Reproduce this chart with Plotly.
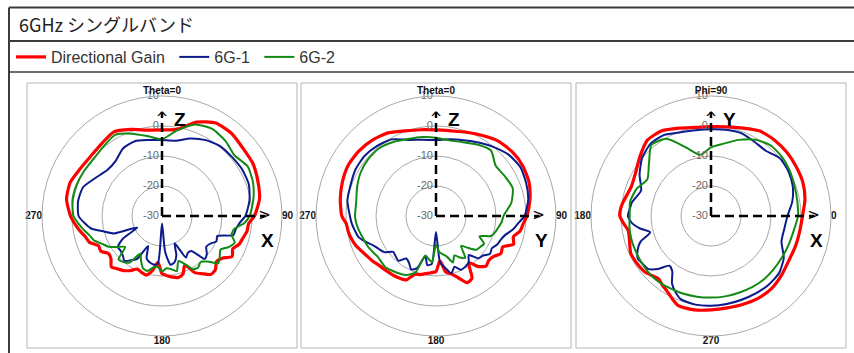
import plotly.graph_objects as go

W, H = 854, 353

title_text = "6GHz シングルバンド"
series_names = ["Directional Gain", "6G-1", "6G-2"]
series_colors = ["#ff0000", "#0b1a8c", "#138a13"]
series_widths = [3.2, 2.0, 2.0]

radial_ticks = [10, 0, -10, -20, -30]

# angles (deg) used for the two Theta=0 cuts, clockwise from the top
theta_a = [0, 10, 20, 30, 40, 50, 60, 70, 80, 90,
           95, 100, 105, 110, 115, 120, 125, 130, 135, 140, 145, 150, 155, 160, 165,
           170, 175, 180, 185, 190, 195, 200, 205, 210, 215, 220, 225, 230, 235, 240,
           245, 250, 255, 260, 265,
           270, 280, 290, 300, 310, 320, 330, 340, 350]

# angles (deg) for the Phi=90 cut, counter-clockwise from the right
theta_b = [0, 10, 20, 30, 40, 50, 60, 70, 80, 90, 100, 110, 120, 130, 140, 150, 160, 170,
           175, 180, 185, 190, 195, 200, 205, 210, 215, 220, 225, 230, 235, 240, 245, 250,
           260, 270, 280, 290, 300, 310, 320, 330, 340, 350]

# XZ plane
p1_gain = [-1.3, -0.7, 3.3, 5.8, 6.0, 5.2, 5.0, 4.0, 3.0, 0.8,
           -1.0, -1.2, -2.0, -2.6, -4.0, -3.0, -5.5, -6.3, -4.8, -4.6, -6.5, -8.2, -12.0, -9.5, -8.8,
           -9.3, -10.0, -10.8, -14.5, -11.5, -9.6, -10.0, -10.5, -9.0, -7.8, -7.0, -6.1, -7.8, -8.2, -6.5,
           -6.6, -4.3, -3.5, -2.1, -0.8,
           0.5, 2.3, 2.6, 1.5, 1.0, 1.4, 2.3, 0.7, -0.9]
p1_6g1 = [-4.7, -4.5, -2.5, -0.8, 0.3, 0.5, 0.9, 0.8, -0.4, -2.2,
          -4.0, -5.0, -5.4, -10.4, -10.0, -11.5, -12.0, -10.5, -9.8, -14.8, -15.0, -14.0, -20.0, -16.0, -14.0,
          -13.5, -18.0, -27.5, -14.0, -13.6, -14.0, -15.0, -19.0, -13.5, -12.0, -10.5, -11.5, -12.0, -12.0, -15.0,
          -20.9, -13.0, -10.0, -6.0, -4.0,
          -2.2, -1.6, -2.0, -4.5, -6.2, -6.0, -4.0, -3.5, -4.3]
p1_6g2 = [-4.4, -1.0, 2.5, 3.5, 2.8, 1.5, 3.0, 2.3, 0.9, -0.8,
          -2.5, -5.5, -6.0, -4.2, -5.5, -7.5, -6.5, -5.5, -8.5, -10.0, -9.0, -9.5, -12.5, -14.0, -11.0,
          -12.0, -12.5, -11.5, -13.0, -12.5, -11.0, -11.5, -13.5, -15.5, -11.0, -10.0, -9.5, -14.0, -12.0, -9.5,
          -8.0, -6.0, -5.0, -3.5, -2.0,
          -0.5, 0.3, 0.3, 0.0, -0.3, 0.3, 1.2, -0.8, -3.0]

# YZ plane
p2_gain = [-1.3, -1.2, -0.3, 1.0, 2.5, 3.2, 3.4, 3.0, 1.8, 0.3,
           -0.8, -1.5, -3.3, -2.5, -5.5, -5.0, -6.5, -7.0, -6.4, -8.0, -11.0, -6.0, -5.5, -8.0, -10.0,
           -11.0, -15.0, -11.5, -11.0, -10.5, -9.8, -9.3, -6.5, -6.0, -5.7, -5.5, -5.2, -4.8, -4.0, -3.4,
           -2.5, -1.5, -0.8, -0.3, 0.0,
           1.4, 2.4, 3.2, 3.8, 3.6, 3.0, 2.0, 0.2, -0.8]
p2_6g1 = [-4.7, -4.0, -3.1, -1.7, 0.0, 1.7, 2.5, 2.0, 1.2, -0.5,
          -2.5, -4.0, -6.0, -7.0, -7.5, -8.5, -8.0, -9.5, -10.0, -13.0, -11.0, -10.5, -10.2, -12.0, -10.2,
          -12.5, -14.5, -24.7, -14.0, -13.4, -16.2, -11.5, -10.4, -12.0, -12.7, -10.5, -11.0, -11.4, -9.0, -8.0,
          -6.9, -5.0, -3.2, -2.5, -1.8,
          -1.3, 0.0, 0.3, 1.0, 1.1, 0.5, -0.5, -3.0, -4.2]
p2_6g2 = [-3.9, -4.4, -3.8, -2.5, -1.5, -4.0, -3.5, -2.8, -4.5, -7.5,
          -8.0, -8.8, -9.5, -10.5, -14.0, -11.5, -12.0, -12.5, -15.0, -17.0, -13.0, -14.0, -15.5, -13.5, -16.0,
          -17.0, -18.0, -20.5, -14.6, -15.5, -16.4, -10.0, -8.4, -7.5, -7.0, -6.5, -6.0, -6.2, -6.3, -5.8,
          -5.2, -4.8, -4.4, -3.8, -3.3,
          -3.0, -3.0, -2.0, -1.0, -0.5, -0.5, -1.5, -2.7, -3.3]

# XY plane
p3_gain = [0.5, 1.8, 2.6, 2.8, 3.0, 3.0, 2.7, 1.2, 0.2, -0.2, 0.0, 1.2, 2.8, 3.0, 0.9, -1.0, -1.7, -0.5,
           0.2, 0.4, -0.8, -2.0, -1.8, -1.2, -0.5, -0.6, -0.8, -1.1, -2.0, -2.7, -1.8, -0.9, 0.5, 1.8,
           1.8, 1.3, 1.1, 1.3, 1.6, 1.5, 0.7, -0.1, -0.1, 0.0]
p3_6g1 = [-4.5, -2.5, -1.0, -0.2, 0.0, -1.6, -1.3, -0.6, -0.8, -1.1, -1.0, -0.3, 1.2, 1.4, 0.0, -2.5, -5.2, -3.3,
          -2.8, -2.3, -3.5, -6.0, -9.0, -5.0, -3.0, -1.8, -2.2, -2.6, -5.0, -8.4, -7.5, -4.0, -2.0, -0.5,
          0.0, -0.1, -0.2, -0.3, -0.2, -0.1, -0.4, -2.0, -5.0, -5.2]
p3_6g2 = [-1.0, -0.8, -0.4, 0.3, 0.8, 0.8, -0.6, -3.0, -5.5, -7.1, -9.3, -5.7, -0.3, 0.9, -3.0, -5.5, -3.6, -2.6,
          -2.8, -2.9, -2.7, -2.5, -2.4, -2.3, -2.3, -2.2, -2.1, -2.0, -1.9, -1.9, -2.1, -2.3, -2.4, -2.5,
          -2.7, -2.8, -2.8, -2.8, -2.6, -2.5, -2.6, -2.6, -2.4, -2.0]

# compass labels: (angle, text) for up / right / down / left
panels = [
    dict(theta=theta_a, data=[p1_gain, p1_6g1, p1_6g2],
         compass=[(0, "Theta=0"), (90, "90"), (180, "180"), (270, "270")],
         rotation=90, direction="clockwise", letters=("Z", "X")),
    dict(theta=theta_a, data=[p2_gain, p2_6g1, p2_6g2],
         compass=[(0, "Theta=0"), (90, "90"), (180, "180"), (270, "270")],
         rotation=90, direction="clockwise", letters=("Z", "Y")),
    dict(theta=theta_b, data=[p3_gain, p3_6g1, p3_6g2],
         compass=[(90, "Phi=90"), (0, "0"), (270, "270"), (180, "180")],
         rotation=0, direction="counterclockwise", letters=("Y", "X")),
]
compass_pos = ["top center", "middle right", "bottom center", "middle left"]

centers_x = [162, 436, 711]
center_y = 216
R = 120
panel_boxes = [(27, 297), (301, 571), (576, 846)]

fig = go.Figure()
shapes = []
annotations = []

for i, pn in enumerate(panels):
    sub = "polar" if i == 0 else "polar%d" % (i + 1)
    th = pn["theta"] + [pn["theta"][0]]
    up = pn["compass"][0][0]
    right = pn["compass"][1][0]
    for j in range(3):
        r = pn["data"][j] + [pn["data"][j][0]]
        fig.add_trace(go.Scatterpolar(
            r=r, theta=th, mode="lines", subplot=sub,
            name=series_names[j] + "\u00a0", showlegend=(i == 0), legendgroup=series_names[j],
            line=dict(color=series_colors[j], width=series_widths[j], shape="spline", smoothing=0.6),
            hoverinfo="skip"))

    # dashed axis arrows
    for ang, head, hr in [(up, "^", 2.3), (right, ">", 4.2)]:
        fig.add_trace(go.Scatterpolar(
            r=[-30, 4.5], theta=[ang, ang], mode="lines", subplot=sub, showlegend=False,
            line=dict(color="black", width=2.5, dash="9px,5px"), hoverinfo="skip"))
        fig.add_trace(go.Scatterpolar(
            r=[hr], theta=[ang], mode="text", text=[head], subplot=sub, showlegend=False,
            textposition="middle center",
            textfont=dict(family="DejaVu Sans", size=15, color="black"), hoverinfo="skip"))

    # radial tick labels
    fig.add_trace(go.Scatterpolar(
        r=radial_ticks, theta=[up] * len(radial_ticks), mode="text",
        text=["%d\u00a0" % v for v in radial_ticks], textposition="middle left", subplot=sub,
        showlegend=False, textfont=dict(family="Liberation Sans", size=11, color="#6b6b6b"),
        hoverinfo="skip"))

    # angle labels on the outer ring
    fig.add_trace(go.Scatterpolar(
        r=[radial_ticks[0]] * 4, theta=[c[0] for c in pn["compass"]], mode="text",
        text=["<b>%s</b>" % c[1] for c in pn["compass"]], textposition=compass_pos,
        subplot=sub, showlegend=False,
        textfont=dict(family="Liberation Sans", size=10, color="#111"), hoverinfo="skip"))

    cx = centers_x[i]
    fig.update_layout({sub: dict(
        domain=dict(x=[(cx - R) / W, (cx + R) / W],
                    y=[1 - (center_y + R) / H, 1 - (center_y - R) / H]),
        bgcolor="white",
        radialaxis=dict(range=[-30, 10], tickvals=radial_ticks, showticklabels=False,
                        showline=False, ticks="", gridcolor="#a8a8a8", gridwidth=1),
        angularaxis=dict(tickvals=[c[0] for c in pn["compass"]], showticklabels=False,
                         rotation=pn["rotation"], direction=pn["direction"], showgrid=False,
                         ticks="", linecolor="#a8a8a8", linewidth=1),
    )})

    # panel frame
    x0, x1 = panel_boxes[i]
    shapes.append(dict(type="rect", xref="paper", yref="paper",
                       x0=x0 / W, x1=x1 / W, y0=1 - 348 / H, y1=1 - 83 / H,
                       line=dict(color="#b4b4b4", width=1)))

    # axis letters
    for letter, lx, ly in [(pn["letters"][0], cx + 18, center_y - 97),
                           (pn["letters"][1], cx + 105, center_y + 25)]:
        annotations.append(dict(text="<b>%s</b>" % letter, x=lx / W, y=1 - ly / H,
                                xref="paper", yref="paper", xanchor="center", yanchor="middle",
                                showarrow=False,
                                font=dict(family="Liberation Sans", size=19, color="black")))

# outer frame and row separators
frame_col = "#3c3c3c"
shapes.append(dict(type="line", xref="paper", yref="paper", x0=9 / W, x1=1, y0=1 - 7.5 / H, y1=1 - 7.5 / H,
                   line=dict(color=frame_col, width=2)))
shapes.append(dict(type="line", xref="paper", yref="paper", x0=9 / W, x1=9 / W, y0=0, y1=1 - 7.5 / H,
                   line=dict(color=frame_col, width=2)))
shapes.append(dict(type="line", xref="paper", yref="paper", x0=9 / W, x1=1, y0=1 - 41 / H, y1=1 - 41 / H,
                   line=dict(color=frame_col, width=2)))
shapes.append(dict(type="line", xref="paper", yref="paper", x0=9 / W, x1=1, y0=1 - 72 / H, y1=1 - 72 / H,
                   line=dict(color=frame_col, width=1.5)))

annotations.append(dict(text=title_text, x=17 / W, y=1 - 24 / H, xref="paper", yref="paper",
                        xanchor="left", yanchor="middle", showarrow=False,
                        font=dict(family="Noto Sans CJK JP", size=18, color="#222")))

fig.update_layout(
    width=W, height=H,
    margin=dict(l=0, r=0, t=0, b=0),
    paper_bgcolor="white",
    showlegend=True,
    legend=dict(orientation="h", x=11 / W, y=1 - 57 / H, xanchor="left", yanchor="middle",
                font=dict(family="Liberation Sans", size=16, color="#333"),
                bgcolor="rgba(0,0,0,0)"),
    shapes=shapes,
    annotations=annotations,
)

# page body margin would shift the whole figure
fig.write_html("out.html", config={"displayModeBar": False},
               post_script="document.body.style.margin='0';")
